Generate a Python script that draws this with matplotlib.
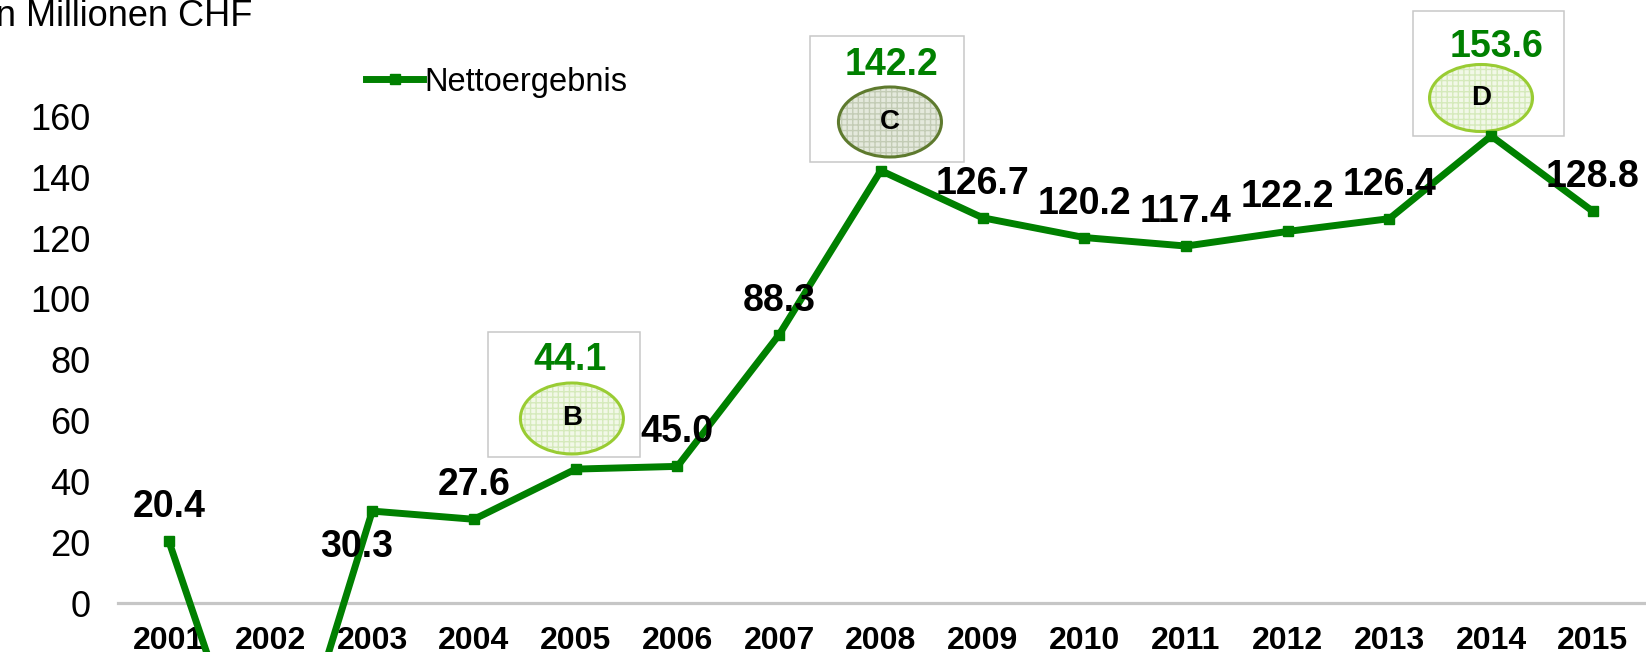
import matplotlib
matplotlib.use("Agg")
import matplotlib.pyplot as plt
import matplotlib.transforms as mtransforms
from matplotlib.patches import Rectangle, Ellipse

plt.rcParams["font.family"] = ["Liberation Sans", "DejaVu Sans"]

# ── Data ─────────────────────────────────────────────────────────────────────
years = ["2001", "2002", "2003", "2004", "2005", "2006", "2007", "2008",
         "2009", "2010", "2011", "2012", "2013", "2014", "2015"]
net_result = [20.4, -78.0, 30.3, 27.6, 44.1, 45.0, 88.3, 142.2,
              126.7, 120.2, 117.4, 122.2, 126.4, 153.6, 128.8]
y_ticks = [-100, -80, -60, -40, -20, 0, 20, 40, 60, 80, 100, 120, 140, 160]

# highlighted years -> marker letter
highlights = {"2005": "B", "2008": "C", "2014": "D"}

GREEN = "#008000"
# (box left, box bottom, box w, box h, ellipse dx, ellipse dy, ell w, ell h,
#  label dx, label dy, edge colour, face colour, hatch colour) in pixels
HL_STYLE = {
    "B": (-87.8, 12.4, 152, 125, -3.8, 50.6, 103, 71, -5.8, 109.1,
          "#99cc33", "#f2f8e8", "#d5eabb"),
    "C": (-70.9, 8.9, 154, 125.7, 9.1, 48.6, 103, 70, 11.1, 105.6,
          "#5e7a2e", "#e4e9dc", "#c3ccb5"),
    "D": (-78.4, -0.1, 151.3, 125, -10.1, 37.9, 103, 67, 5.6, 88.4,
          "#99cc33", "#f2f8e8", "#d5eabb"),
}

fig = plt.figure(figsize=(16.46, 6.52), dpi=100)
# axes runs below the bottom of the figure (the original is cropped there)
ax = fig.add_axes([118 / 1646, -0.392, 1525.7 / 1646, 1.392])

for s in ["left", "right", "top"]:
    ax.spines[s].set_visible(False)
ax.spines["bottom"].set_position(("data", 0))
ax.spines["bottom"].set_color("#c6c6c6")
ax.spines["bottom"].set_linewidth(2.3)

x = list(range(len(years)))
ax.plot(x, net_result, color=GREEN, lw=5, marker="s", markersize=6.5,
        label="Nettoergebnis", zorder=3, solid_joinstyle="miter")

ax.set_xlim(-0.5, len(years) - 0.5)
ax.set_ylim(-100, 198.26)
ax.set_yticks(y_ticks)
ax.set_yticklabels([str(v) for v in y_ticks], fontsize=26)
ax.set_xticks(x)
ax.set_xticklabels(years, fontsize=23, fontweight="bold")
ax.tick_params(axis="y", length=0, pad=20)
ax.tick_params(axis="x", length=0, pad=16)

# data labels
for i, (yr, v) in enumerate(zip(years, net_result)):
    if yr in highlights:
        continue
    off = (-11, -26) if yr == "2003" else (0, 24.5)
    ax.annotate(f"{v:.1f}", xy=(i, v), xytext=off, textcoords="offset points",
                ha="center", va="center", fontsize=27, fontweight="bold",
                color="black", zorder=4)

# highlighted points: box, ellipse with letter, green label
for yr, letter in highlights.items():
    i = years.index(yr)
    v = net_result[i]
    (bx, by, bw, bh, ex, ey, ew, eh, lx, ly,
     ecol, fcol, hcol) = HL_STYLE[letter]
    trans = fig.dpi_scale_trans + mtransforms.ScaledTranslation(i, v, ax.transData)
    ax.add_patch(Rectangle((bx / 100, by / 100), bw / 100, bh / 100,
                           transform=trans, facecolor="white",
                           edgecolor="#c8c8c8", lw=1.1, zorder=2, clip_on=False))
    ax.add_patch(Ellipse((ex / 100, ey / 100), ew / 100, eh / 100,
                         transform=trans, facecolor=fcol, edgecolor=hcol,
                         hatch="+++", lw=0, zorder=2.1, clip_on=False))
    ax.add_patch(Ellipse((ex / 100, ey / 100), ew / 100, eh / 100,
                         transform=trans, facecolor="none", edgecolor=ecol,
                         lw=2.2, zorder=2.2, clip_on=False))
    ax.annotate(letter, xy=(i, v), xytext=(ex * 0.72, ey * 0.72),
                textcoords="offset points", ha="center", va="center",
                fontsize=20, fontweight="bold", color="black", zorder=4)
    ax.annotate(f"{v:.1f}", xy=(i, v), xytext=(lx * 0.72, ly * 0.72),
                textcoords="offset points", ha="center", va="center",
                fontsize=27, fontweight="bold", color=GREEN, zorder=4)

fig.text(252 / 1646, 1 - 17 / 652, "in Millionen CHF", ha="right", va="center",
         fontsize=26)

ax.legend(loc="center left", bbox_to_anchor=(366 / 1646, 1 - 82 / 652),
          bbox_transform=fig.transFigure, frameon=False, fontsize=23.5,
          handlelength=1.75, handletextpad=0.05, borderpad=0, borderaxespad=0)

fig.savefig("out.png", dpi=100)
